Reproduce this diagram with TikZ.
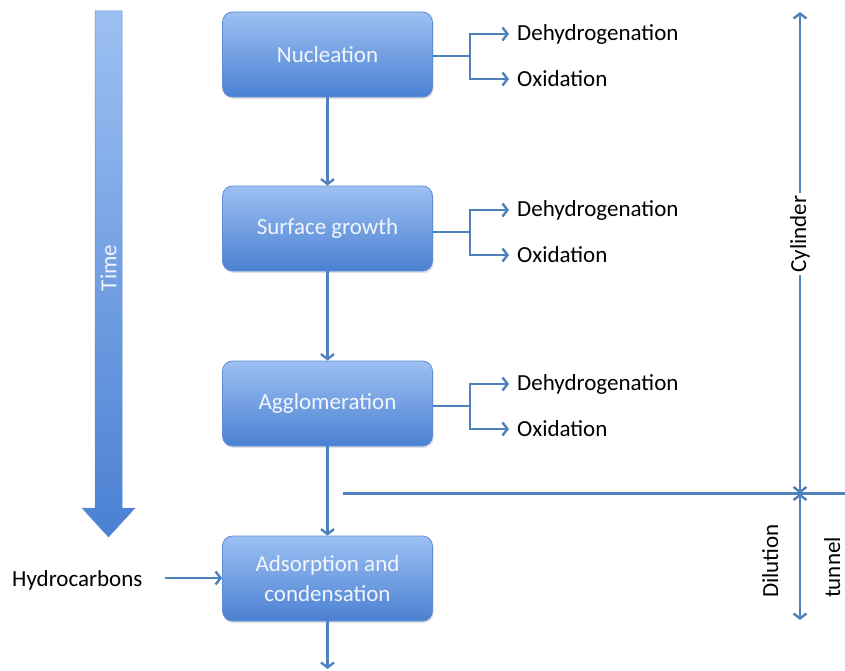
\documentclass[tikz,border=0pt]{standalone}
\usepackage{fontspec}
\setmainfont{Carlito}
\usetikzlibrary{arrows.meta,shadows}
\definecolor{lnblue}{HTML}{4F81BD}
\definecolor{boxtop}{HTML}{9DC0F2}
\definecolor{boxbot}{HTML}{4A80D3}
\definecolor{boxedge}{HTML}{5C8FD6}
\definecolor{txtwhite}{HTML}{F2F6FC}
\tikzset{
  x=1pt,y=-1pt,
  procbox/.style={draw=boxedge, line width=0.8pt, rounded corners=10pt,
    top color=boxtop, bottom color=boxbot, minimum width=210pt, minimum height=85pt,
    text=txtwhite, font=\fontsize{23}{30}\selectfont, align=center,
    drop shadow={shadow xshift=1pt, shadow yshift=-2pt, opacity=0.25}},
  conn/.style={draw=lnblue, line width=2.6pt, -{Straight Barb[length=5pt,width=13pt,line width=2.4pt]}},
  plain/.style={draw=lnblue, line width=2.6pt},
  dbl/.style={draw=lnblue, line width=2.4pt, {Straight Barb[length=5pt,width=13pt,line width=2.4pt]}-{Straight Barb[length=5pt,width=13pt,line width=2.4pt]}},
  lbl/.style={font=\fontsize{23}{28}\selectfont, text=black, inner sep=0pt},
}
\begin{document}
\begin{tikzpicture}
\useasboundingbox (0,0) rectangle (845,671);
% Time arrow
\shade[top color=boxtop, bottom color=boxbot, draw=boxedge, line width=0.5pt]
  (95,11) -- (122,11) -- (122,508) -- (135,508) -- (108.5,537) -- (82,508) -- (95,508) -- cycle;
\node[lbl, text=txtwhite, rotate=90] (time) at (108.5,268) {Time};
% boxes
\node[procbox] (nuc) at (327.5,54.5) {Nucleation};
\node[procbox] (sur) at (327.5,228.5) {Surface growth};
\node[procbox] (agg) at (327.5,403.5) {Agglomeration};
\node[procbox] (ads) at (327.5,578.5) {Adsorption and\\condensation};
% vertical flow
\draw[conn] (nuc.south) -- (sur.north);
\draw[conn] (sur.south) -- (agg.north);
\draw[conn] (agg.south) -- (ads.north);
\coordinate (end) at (327.5,669);
\draw[conn] (ads.south) -- (end);
% branches
\foreach \b/\cy in {nuc/56, sur/232, agg/406}{
  \node[lbl, anchor=west] (\b d) at (517,\cy-22) {Dehydrogenation};
  \node[lbl, anchor=west] (\b o) at (517,\cy+23) {Oxidation};
  \coordinate (\b j) at (470,\cy);
  \draw[plain] (\b.east |- \b j) -- (\b j);
  \draw[conn] (\b j) |- ([xshift=-8pt]\b d.west);
  \draw[conn] (\b j) |- ([xshift=-8pt]\b o.west);
}
% hydrocarbons
\node[lbl, anchor=west] (hc) at (12,580) {Hydrocarbons};
\draw[conn] (165,578) -- (ads.west |- 0,578);
% separator line
\coordinate (sepL) at (343,493.5);
\coordinate (sepR) at (845,493.5);
\draw[lnblue, line width=2.4pt] (sepL) -- (sepR);
% cylinder
\coordinate (ctop) at (800,12);
\coordinate (cmid) at (800,493.5);
\coordinate (cbot) at (800,620);
\draw[dbl] (ctop) -- (cmid);
\node[lbl, rotate=90, fill=white, inner sep=3pt] (cyl) at (800,234) {Cylinder};
\draw[dbl] (cmid) -- (cbot);
\node[lbl, rotate=90, anchor=base west] (dil) at (778,598) {Dilution};
\node[lbl, rotate=90, anchor=base west] (tun) at (840,598) {tunnel};
\end{tikzpicture}
\end{document}
